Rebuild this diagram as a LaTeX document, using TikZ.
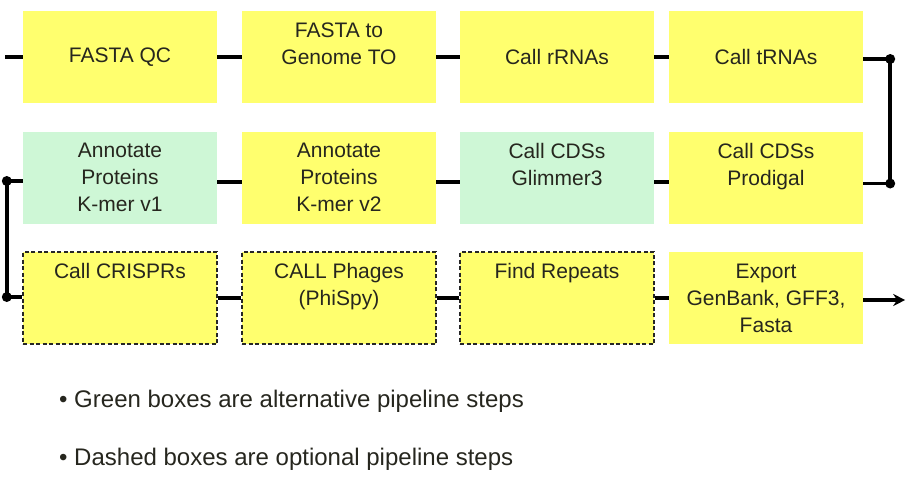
\documentclass[tikz,border=0pt]{standalone}
\usepackage{fontspec}
\setmainfont{Liberation Sans}
\usetikzlibrary{arrows.meta,calc}
\definecolor{boxyellow}{RGB}{255,255,110}
\definecolor{boxgreen}{RGB}{206,247,214}
\definecolor{txt}{RGB}{38,38,30}
\begin{document}
\begin{tikzpicture}[x=1pt,y=-1pt,
  stepbox/.style={minimum width=194pt,minimum height=92pt,inner sep=0pt,align=center,
    font=\fontsize{21}{27}\selectfont,text=txt,fill=boxyellow},
  altbox/.style={stepbox,fill=boxgreen},
  optbox/.style={stepbox,draw=black!85,line width=1.3pt,dash pattern=on 4pt off 2.5pt},
  link/.style={line width=3.6pt,black},
  dot/.style={circle,fill=black,inner sep=0pt,minimum size=10pt},
  note/.style={anchor=base west,inner sep=0pt,font=\fontsize{24}{27}\selectfont,text=txt}]
\useasboundingbox (0,0) rectangle (921,485);
% row 1
\node[stepbox] (a1) at (120,57) {FASTA QC};
\node[stepbox] (a2) at (339,57) {FASTA to\\Genome TO\\~};
\node[stepbox] (a3) at (557,57) {Call rRNAs};
\node[stepbox] (a4) at (766,57) {Call tRNAs};
% row 2
\node[altbox]  (b1) at (120,177.5) {Annotate\\Proteins\\K-mer v1};
\node[stepbox] (b2) at (339,177.5) {Annotate\\Proteins\\K-mer v2};
\node[altbox]  (b3) at (557,177.5) {Call CDSs\\Glimmer3\\~};
\node[stepbox] (b4) at (766,177.5) {Call CDSs\\Prodigal\\~};
% row 3
\node[optbox]  (c1) at (120,298) {Call CRISPRs\\~\\~};
\node[optbox]  (c2) at (339,298) {CALL Phages\\(PhiSpy)\\~};
\node[optbox]  (c3) at (557,298) {Find Repeats\\~\\~};
\node[stepbox] (c4) at (766,298) {Export\\GenBank, GFF3,\\Fasta};
% connectors row 1
\coordinate (start) at (5,57);
\draw[link] (start) -- (a1.west);
\draw[link] (a1.east) -- (a2.west);
\draw[link] (a2.east) -- (a3.west);
\draw[link] (a3.east) -- (a4.west);
% right turn
\coordinate (rt) at ($(a4.east)+(27,2)$);
\coordinate (bp) at ($(b4.east)+(0,6)$);
\draw[link] ($(a4.east)+(0,2)$) -- (rt) -- (rt |- bp) coordinate (rb) -- (bp);
\node[dot] (d1) at (rt) {};
\node[dot] (d2) at (rb) {};
% row 2
\draw[link] ($(b3.east)+(0,4.5)$) -- ($(b4.west)+(0,4.5)$);
\draw[link] ($(b2.east)+(0,4.5)$) -- ($(b3.west)+(0,4.5)$);
\draw[link] ($(b1.east)+(0,4.5)$) -- ($(b2.west)+(0,4.5)$);
% left turn
\coordinate (lt) at ($(b1.west)+(-16,3.5)$);
\coordinate (cp) at ($(c1.west)+(0,-1)$);
\draw[link] ($(b1.west)+(0,3.5)$) -- (lt) -- (lt |- cp) coordinate (lb) -- (cp);
\node[dot] (d3) at (lt) {};
\node[dot] (d4) at (lb) {};
% row 3
\draw[link] (c1.east) -- (c2.west);
\draw[link] (c2.east) -- (c3.west);
\draw[link] (c3.east) -- (c4.west);
\coordinate (finish) at ($(c4.east)+(42,2)$);
\draw[link,-{Stealth[length=12pt,width=12pt]}] ($(c4.east)+(0,2)$) -- (finish);
% notes
\node[note] (n1) at (59,407) {• Green boxes are alternative pipeline steps};
\node[note] (n2) at (59,465) {• Dashed boxes are optional pipeline steps};
\end{tikzpicture}
\end{document}
